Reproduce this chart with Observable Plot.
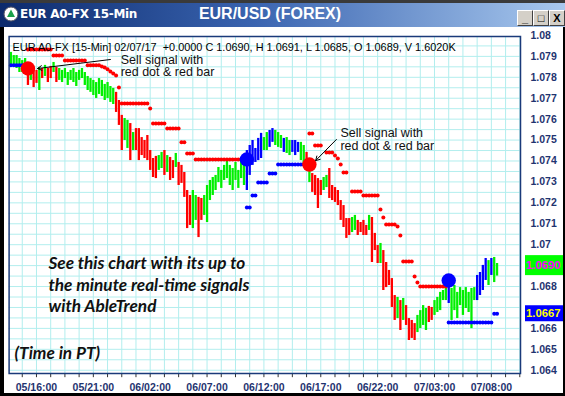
<!DOCTYPE html>
<html><head><meta charset="utf-8">
<script src="https://cdn.jsdelivr.net/npm/d3@7"></script>
<script src="https://cdn.jsdelivr.net/npm/@observablehq/plot@0.6"></script>
<style>
html,body{margin:0;padding:0;background:#fff;}
#wrap{position:relative;width:565px;height:396px;overflow:hidden;font-family:"Liberation Sans",Arial,sans-serif;}
#titlebar{position:absolute;left:0;top:0;width:565px;height:27px;
  background:linear-gradient(to bottom,#3a3a3a 0,#3a3a3a 3px,transparent 3px),linear-gradient(to right,#0c2a6c 0%,#3a64b0 45%,#a8c8ee 100%);}
#titlebar .t1{position:absolute;left:20px;top:7px;color:#fff;font-weight:bold;font-size:12px;font-family:"DejaVu Sans",sans-serif;letter-spacing:-0.3px;}
#titlebar .t2{position:absolute;left:0;width:540px;text-align:center;top:5px;color:#fff;font-weight:bold;font-size:16px;}
.btn{position:absolute;top:10px;width:14px;height:14px;background:#d4d0c8;border:1px solid;border-color:#fff #404040 #404040 #fff;
  font:bold 11px "Liberation Sans",Arial,sans-serif;color:#000;text-align:center;line-height:14px;}
.edge{position:absolute;background:#000;}
</style></head><body>
<div id="wrap"></div>
<script>
// ---- data: 15-min bars of EUR/USD, bar index 0 = 05/13:45 ----
const xTickBars = [9, 29, 49, 69, 89, 109, 129, 149, 169];
const xTickLabels = ["05/16:00","05/21:00","06/02:00","06/07:00","06/12:00","06/17:00","06/22:00","07/03:00","07/08:00"];
// visible price-axis labels (1.069 and 1.067 are covered by the price boxes)
const yTickValues = [1.08,1.079,1.078,1.077,1.076,1.075,1.074,1.073,1.072,1.071,1.07,1.068,1.066,1.065,1.064];
const yTickLabels = ["1.08","1.079","1.078","1.077","1.076","1.075","1.074","1.073","1.072","1.071","1.07","1.068","1.066","1.065","1.064"];

const barHigh = [1.07919,1.07904,1.07904,1.0789,1.0788,1.0789,1.07842,1.07852,1.07847,1.07833,
1.07847,1.07842,1.07857,1.07842,1.07852,1.07871,1.07847,1.07842,1.07833,1.07842,
1.07823,1.07833,1.07842,1.07823,1.07833,1.07842,1.07823,1.07804,1.07794,1.07785,
1.07775,1.07794,1.07785,1.07766,1.07775,1.07756,1.07747,1.07728,1.07689,1.07618,
1.07603,1.07594,1.07579,1.07536,1.07555,1.07555,1.07512,1.07498,1.07522,1.0745,
1.07412,1.07422,1.07426,1.07441,1.0745,1.07426,1.07417,1.07402,1.07436,1.07393,
1.07379,1.07345,1.07259,1.07235,1.07259,1.07235,1.07226,1.07221,1.07235,1.07283,
1.07307,1.07321,1.07331,1.07369,1.07355,1.07379,1.07402,1.07379,1.07364,1.07393,
1.07355,1.07402,1.07426,1.0745,1.07474,1.07498,1.0746,1.07508,1.07532,1.07512,
1.07536,1.07546,1.07555,1.07546,1.07536,1.07522,1.07508,1.07512,1.07498,1.07498,
1.07498,1.07489,1.07489,1.07474,1.07441,1.07379,1.0734,1.07331,1.07316,1.07307,
1.07321,1.07331,1.07364,1.07283,1.07273,1.07259,1.07211,1.07187,1.07125,1.07125,
1.0713,1.0714,1.07116,1.07106,1.07116,1.07092,1.0714,1.0713,1.07054,1.06996,
1.07006,1.06972,1.06915,1.06877,1.06838,1.06757,1.06748,1.06733,1.06743,1.06709,
1.06647,1.06638,1.06623,1.06662,1.06685,1.06709,1.06695,1.06705,1.067,1.06733,
1.06748,1.06772,1.06781,1.06805,1.06815,1.06791,1.06805,1.06772,1.06795,1.06781,
1.06795,1.06772,1.06791,1.06795,1.06853,1.06867,1.06901,1.06934,1.06924,1.06934,
1.06939,1.0691];
const barLow = [1.07857,1.07852,1.07842,1.07823,1.07823,1.07833,1.07761,1.07785,1.07751,1.07771,
1.07737,1.07794,1.07804,1.07775,1.07794,1.07823,1.07775,1.07785,1.07775,1.07794,
1.07761,1.07785,1.07775,1.07756,1.07785,1.07794,1.07761,1.07737,1.07728,1.07713,
1.07699,1.07718,1.07708,1.07689,1.07699,1.0768,1.0767,1.07632,1.0757,1.0745,
1.07498,1.0746,1.07402,1.0745,1.0745,1.07402,1.07426,1.07412,1.07402,1.07355,
1.07321,1.07316,1.07355,1.07364,1.07331,1.07345,1.07307,1.07316,1.07369,1.07283,
1.07293,1.07226,1.07077,1.07092,1.07077,1.07116,1.07034,1.07116,1.0714,1.07106,
1.07211,1.07235,1.07259,1.07297,1.07269,1.07307,1.07316,1.07283,1.07259,1.07307,
1.07269,1.07316,1.07283,1.07259,1.07331,1.07379,1.07393,1.07402,1.07412,1.0745,
1.0745,1.07465,1.07489,1.07474,1.07465,1.0746,1.07441,1.07436,1.07426,1.07441,
1.07426,1.07441,1.07402,1.07379,1.07355,1.07297,1.0725,1.07235,1.07173,1.07235,
1.07259,1.07273,1.07221,1.07211,1.07202,1.07187,1.07116,1.07082,1.0703,1.07044,
1.07058,1.07068,1.07044,1.07058,1.07044,1.07044,1.07068,1.06915,1.06972,1.0691,
1.0691,1.06781,1.06795,1.06805,1.067,1.06638,1.06647,1.0659,1.06638,1.06614,
1.06542,1.06552,1.06542,1.0658,1.06599,1.06614,1.0659,1.06628,1.06638,1.06662,
1.06676,1.06685,1.06733,1.06733,1.06719,1.06638,1.06685,1.06647,1.06709,1.06662,
1.06695,1.06676,1.06599,1.06733,1.06733,1.06757,1.06781,1.06829,1.06805,1.06853,
1.06819,1.0685];
// g = up (green), r = down (red), b = strong up (blue)
const barColor = ("gggggg"+"rgrrgrgrrgr"+"gggggggggggggggggggg"+"rrr"+"gg"+"r"+"g"+"rrrrrrrr"+"gg"+"r"+"g"+"rr"+"g"+
 "rrrrr"+"gg"+"rr"+"ggggggggggggggg"+"bbbbbb"+"gg"+"bb"+"ggg"+"b"+"gg"+"bbb"+"gg"+"r"+"g"+"rrrr"+"gg"+"rrrrrrrr"+
 "gg"+"rrrr"+"g"+"rrr"+"g"+"rrrrr"+"g"+"r"+"g"+"rrrr"+"gggg"+"rr"+"ggggg"+"b"+"ggggggggg"+"bbbb"+"g"+"b"+"gg").split("");

// trailing stop dots (null = none), r = above price (sell), b = below price (buy)
const stopLevel = [1.07857,1.07857,1.07857,1.07857,1.07857,null,1.07933,1.07933,1.07933,1.07933,
1.07933,1.07933,1.07933,1.07933,1.07933,1.07904,1.07904,1.07904,1.07904,1.0788,
1.0788,1.0788,1.0788,1.0788,1.0788,1.0788,1.0788,1.07857,1.07857,1.07857,
1.07857,1.07857,1.07852,1.07847,1.07838,1.07828,1.07818,1.07809,1.07751,1.07675,
1.07675,1.07675,1.07675,1.07675,1.07675,1.07675,1.07675,1.07675,1.07675,1.07651,
1.07579,1.07579,1.07579,1.07579,1.07579,1.07555,1.07555,1.07555,1.07555,1.07555,
1.07489,1.07489,1.07436,1.07436,1.07436,1.07407,1.07407,1.07407,1.07407,1.07407,
1.07407,1.07407,1.07407,1.07407,1.07407,1.07407,1.07407,1.07407,1.07407,1.07407,
1.07407,1.07407,1.07407,1.07178,1.07178,1.07235,1.07235,1.07297,1.07297,1.07297,
1.07297,1.0734,1.0734,1.0734,1.07383,1.07383,1.07383,1.07383,1.07383,1.07383,
1.07383,1.07383,1.07383,1.07383,null,1.07532,1.07532,1.07474,1.07474,1.07474,
null,1.07441,1.07441,1.07441,1.07426,1.07412,1.07383,1.07345,1.07345,null,
1.07254,1.07254,1.07254,1.07254,1.07235,1.07235,1.07235,1.07235,1.07235,1.07235,
1.07168,1.0713,1.07097,1.07097,1.07097,1.07097,1.07087,1.07044,1.0692,1.0692,
1.0692,1.0692,1.06848,1.06819,1.068,1.068,1.068,1.068,1.068,1.068,
1.068,1.068,1.068,1.068,1.06628,1.06628,1.06628,1.06628,1.06628,1.06628,
1.06628,1.06628,1.06628,1.06628,1.06628,1.06628,1.06628,1.06628,1.06628,1.06628,
1.0667,1.0667];
const stopColor = ("bbbbb"+"-"+"r".repeat(77)+"b".repeat(21)+"-"+"r".repeat(49)+"b".repeat(18)).split("");

// big signal dots
const signalBar = [6, 83, 105, 154];
const signalPrice = [1.07842, 1.07407, 1.07383, 1.06829];
const signalColor = ["r", "b", "r", "b"];

// annotations
const noteText = ["Sell signal with", "red dot & red bar", "Sell signal with", "red dot & red bar"];
const noteBar = [38.6, 38.6, 115.9, 115.9];
const notePrice = [1.07885, 1.07823, 1.07536, 1.07474];
const arrowFrom = [[35.0, 1.07885], [114.5, 1.07503]];
const arrowTo = [[9.4, 1.07842], [107.2, 1.07402]];

const headerText = "EUR A0-FX [15-Min] 02/07/17  +0.0000 C 1.0690, H 1.0691, L 1.0685, O 1.0689, V 1.6020K";
const promoText = "See this chart with its up to\nthe minute real-time signals\nwith AbleTrend";
const timeNote = "(Time in PT)";
const lastClose = 1.0690, lastStop = 1.0667;

// ---- build ----
const COL = {g: "#00f000", r: "#ff0000", b: "#0000ff"};
const bars = barHigh.map((h, i) => ({i, high: h, low: barLow[i], c: COL[barColor[i]]}));
const stops = stopLevel.map((v, i) => ({i, v, c: COL[stopColor[i]]})).filter(d => d.v != null);
const signals = signalBar.map((b, i) => ({i: b, v: signalPrice[i], c: COL[signalColor[i]]}));
const notes = noteText.map((t, i) => ({t, i: noteBar[i], v: notePrice[i]}));
const arrows = arrowFrom.map((f, i) => ({x1: f[0], y1: f[1], x2: arrowTo[i][0], y2: arrowTo[i][1]}));
const gridX = d3.range(4, 180, 5);
const gridY = d3.range(0, 32).map(j => 1.064 + j * 0.0005);
const yBottom = 1.063844;
const AX = "#1f3470";
const PROMO_FONT = "Lato, 'Open Sans', sans-serif";

const plot = Plot.plot({
  width: 565, height: 396,
  marginTop: 36, marginBottom: 23, marginLeft: 8.6, marginRight: 45,
  x: {domain: [-0.63, 179.25], axis: null},
  y: {domain: [yBottom, 1.07995], axis: null},
  style: {background: "#fff", fontFamily: "'Liberation Sans', Arial, sans-serif", overflow: "visible"},
  marks: [
    Plot.ruleX(gridX, {stroke: "#b2eeee", strokeWidth: 1}),
    Plot.ruleY(gridY, {stroke: "#b2eeee", strokeWidth: 1}),
    Plot.ruleX(gridX, {y1: yBottom, y2: yBottom - 0.0002, stroke: "#333", strokeWidth: 1}),
    Plot.ruleX(bars, {x: "i", y1: "low", y2: "high", stroke: "c", strokeWidth: 2.3}),
    Plot.dot(stops, {x: "i", y: "v", r: 2, fill: "c", stroke: null}),
    Plot.dot(signals, {x: "i", y: "v", r: 7.2, fill: "c", stroke: null}),
    Plot.arrow(arrows, {x1: "x1", y1: "y1", x2: "x2", y2: "y2", stroke: "#000", strokeWidth: 1, headLength: 7}),
    Plot.text(notes, {x: "i", y: "v", text: "t", textAnchor: "start", fontSize: 12.5, fill: "#111"}),
    Plot.text([headerText], {frameAnchor: "top-left", lineAnchor: "middle", dx: 3.5, dy: 11, textAnchor: "start", fontSize: 10.9, fill: "#000"}),
    Plot.text([promoText], {frameAnchor: "top-left", lineAnchor: "top", dx: 39.4, dy: 217.7, textAnchor: "start",
      fontSize: 17.2, lineHeight: 1.25, fontWeight: "bold", fontStyle: "italic", fontFamily: PROMO_FONT, fill: "#111"}),
    Plot.text([timeNote], {frameAnchor: "top-left", lineAnchor: "top", dx: 5.4, dy: 310, textAnchor: "start",
      fontSize: 17.2, fontWeight: "bold", fontStyle: "italic", fontFamily: PROMO_FONT, fill: "#111"}),
    Plot.text(xTickBars, {x: d => d, text: (d, i) => xTickLabels[i], frameAnchor: "bottom", lineAnchor: "middle", dy: 14,
      fontSize: 10.5, fontWeight: "bold", fill: AX}),
    Plot.text(yTickValues, {y: d => d, text: (d, i) => yTickLabels[i], frameAnchor: "right", dx: 10, textAnchor: "start",
      fontSize: 10.5, fontWeight: "bold", fill: AX}),
    Plot.frame({stroke: "#1a3a7a", strokeWidth: 1.5})
  ]
});

// price boxes on the right axis
const ys = plot.scale("y");
const svg = d3.select(plot);
const boxes = [
  {v: lastClose, label: lastClose.toFixed(4), bg: "#00ff00", fg: "#ff00ff", h: 20},
  {v: lastStop, label: lastStop.toFixed(4), bg: "#0000ff", fg: "#ffff00", h: 16}
];
for (const b of boxes) {
  const cy = ys.apply(b.v);
  svg.append("rect").attr("x", 525).attr("y", cy - b.h / 2).attr("width", 40).attr("height", b.h).attr("fill", b.bg);
  svg.append("text").attr("x", 526).attr("y", cy + 4).attr("fill", b.fg).attr("text-anchor", "start")
    .attr("font-size", 11.3).attr("font-weight", "bold").attr("font-family", "'Liberation Sans', Arial, sans-serif").text(b.label);
}

const wrap = document.getElementById("wrap");
plot.style.position = "absolute"; plot.style.left = "0"; plot.style.top = "0";
wrap.appendChild(plot);
wrap.insertAdjacentHTML("beforeend", `
<div id="titlebar">
  <svg width="16" height="16" style="position:absolute;left:3px;top:6px"><circle cx="8" cy="8" r="7" fill="#fff" stroke="#556" stroke-width="1"/><path d="M8 3.5 L12 11 L4 11 Z" fill="#1aa04a"/></svg>
  <div class="t1">EUR A0-FX 15-Min</div>
  <div class="t2">EUR/USD (FOREX)</div>
  <div class="btn" style="left:517px">_</div>
  <div class="btn" style="left:533px">□</div>
  <div class="btn" style="left:549px">X</div>
</div>
<div class="edge" style="left:0;top:27px;width:4px;height:369px"></div>
<div class="edge" style="right:0;top:27px;width:2px;height:369px"></div>
<div class="edge" style="left:0;bottom:0;width:565px;height:3px"></div>`);
</script>
</body></html>
